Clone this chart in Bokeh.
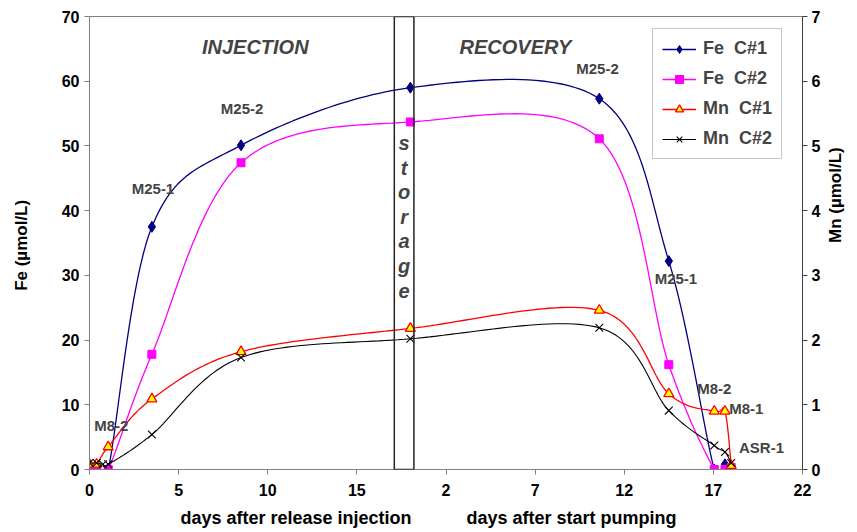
import numpy as np
from bokeh.plotting import figure
from bokeh.models import Range1d, LinearAxis, FixedTicker, Label, BoxAnnotation, Legend
from bokeh.embed import file_html
from bokeh.resources import INLINE

# ---------------- data (x = day on a continuous 0..40 axis; recovery day = x - 18) -------------
fe_c1_x = [0, 0.4, 1.05, 3.5, 8.5, 18.0, 28.6, 32.5, 35.05, 35.65, 36.0]
fe_c1_y = [0, 0, 0, 37.5, 50.1, 59.0, 57.3, 32.2, 0, 0.8, 0]

fe_c2_x = [0, 0.4, 1.05, 3.5, 8.5, 18.0, 28.6, 32.5, 35.05, 35.65, 36.0]
fe_c2_y = [0, 0, 0, 17.8, 47.4, 53.7, 51.1, 16.2, 0, 0, 0.3]

mn_c1_x = [0, 0.4, 1.05, 3.5, 8.5, 18.0, 28.6, 32.5, 35.05, 35.65, 36.0]
mn_c1_y = [0.08, 0.08, 0.35, 1.09, 1.82, 2.18, 2.46, 1.17, 0.90, 0.90, 0.06]

mn_c2_x = [0, 0.4, 0.75, 1.05, 3.5, 8.5, 18.0, 28.6, 32.5, 35.05, 35.65, 36.0]
mn_c2_y = [0.10, 0.10, 0.08, 0.08, 0.54, 1.73, 2.02, 2.19, 0.91, 0.37, 0.27, 0.10]

x_tick_positions = [0, 5, 10, 15, 20, 25, 30, 35, 40]
x_tick_labels = ["0", "5", "10", "15", "2", "7", "12", "17", "22"]
fe_ticks = [0, 10, 20, 30, 40, 50, 60, 70]
mn_ticks = [0, 1, 2, 3, 4, 5, 6, 7]
x_titles = ["days after release injection", "days after start pumping"]

storage_start, storage_end = 17.1, 18.2

point_labels = ["M25-1", "M25-2", "M8-2", "M25-2", "M25-1", "M8-2", "M8-1", "ASR-1"]
point_label_x = [3.56, 8.56, 1.22, 28.5, 32.9, 35.05, 36.85, 37.7]
point_label_y = [43.4, 55.8, 6.8, 62.0, 29.5, 12.5, 9.4, 3.4]

FONT = "Liberation Sans"


def smooth(xs, ys, n=30):
    """Excel-style smoothed line (Catmull-Rom as cubic Bezier) through the data points."""
    xs = np.asarray(xs, float)
    ys = np.asarray(ys, float)
    m = len(xs)
    ox, oy = [xs[0]], [ys[0]]
    t = np.linspace(0, 1, n)[1:]
    for i in range(m - 1):
        a = max(i - 1, 0)
        d = min(i + 2, m - 1)
        c1x = xs[i] + (xs[i + 1] - xs[a]) / 6.0
        c1y = ys[i] + (ys[i + 1] - ys[a]) / 6.0
        c2x = xs[i + 1] - (xs[d] - xs[i]) / 6.0
        c2y = ys[i + 1] - (ys[d] - ys[i]) / 6.0
        bx = (1 - t) ** 3 * xs[i] + 3 * (1 - t) ** 2 * t * c1x + 3 * (1 - t) * t ** 2 * c2x + t ** 3 * xs[i + 1]
        by = (1 - t) ** 3 * ys[i] + 3 * (1 - t) ** 2 * t * c1y + 3 * (1 - t) * t ** 2 * c2y + t ** 3 * ys[i + 1]
        ox.extend(bx.tolist())
        oy.extend(by.tolist())
    return ox, oy


p = figure(width=857, height=532, output_backend="svg", toolbar_location=None,
           x_range=Range1d(0, 40), y_range=Range1d(0, 70),
           min_border_left=89, min_border_right=48, min_border_top=16, min_border_bottom=63)
p.extra_y_ranges = {"mn": Range1d(0, 7)}
p.xgrid.visible = False
p.ygrid.visible = False
p.outline_line_color = "#808080"
p.background_fill_color = "white"
p.border_fill_color = "white"

# storage box
p.add_layout(BoxAnnotation(left=storage_start, right=storage_end, fill_alpha=0,
                           line_color="#222222", line_alpha=1.0, line_width=1.5))

NAVY, MAG, RED = "#000080", "#FF00FF", "#FF0000"

sx, sy = smooth(fe_c1_x, fe_c1_y)
l1 = p.line(sx, sy, line_color=NAVY, line_width=1.3)
m1 = p.scatter(fe_c1_x, fe_c1_y, marker="diamond", size=11, fill_color=NAVY, line_color=NAVY)

sx, sy = smooth(fe_c2_x, fe_c2_y)
l2 = p.line(sx, sy, line_color=MAG, line_width=1.3)
m2 = p.scatter(fe_c2_x, fe_c2_y, marker="square", size=8, fill_color=MAG, line_color=MAG)

sx, sy = smooth(mn_c1_x, mn_c1_y)
l3 = p.line(sx, sy, line_color=RED, line_width=1.3, y_range_name="mn")
m3 = p.scatter(mn_c1_x, mn_c1_y, marker="triangle", size=10, fill_color="#FFFF00",
               line_color=RED, line_width=1.3, y_range_name="mn")

sx, sy = smooth(mn_c2_x, mn_c2_y)
l4 = p.line(sx, sy, line_color="black", line_width=1.1, y_range_name="mn")
m4 = p.scatter(mn_c2_x, mn_c2_y, marker="x", size=11, line_color="black", line_width=1.1,
               y_range_name="mn")

legend = Legend(items=[("Fe  C#1", [l1, m1]), ("Fe  C#2", [l2, m2]),
                       ("Mn  C#1", [l3, m3]), ("Mn  C#2", [l4, m4])],
                location=(563, 310))
legend.label_text_font = FONT
legend.label_text_font_style = "bold"
legend.label_text_font_size = "18px"
legend.glyph_width = 34
legend.glyph_height = 20
legend.label_height = 20
legend.spacing = 9
legend.padding = 9
legend.margin = 0
legend.label_standoff = 7
legend.border_line_color = "#909090"
legend.border_line_width = 1
legend.background_fill_color = "white"
p.add_layout(legend)

# axes styling
def style_axis(ax, color):
    ax.axis_line_color = color
    ax.major_tick_line_color = color
    ax.minor_tick_line_color = None
    ax.major_tick_out = 5
    ax.major_tick_in = 0
    ax.major_label_text_font = FONT
    ax.major_label_text_font_style = "bold"
    ax.major_label_text_font_size = "16px"
    ax.major_label_text_color = "black"
    ax.axis_label_text_font = FONT
    ax.axis_label_text_font_style = "bold"
    ax.axis_label_text_font_size = "17px"
    ax.axis_label_text_color = "black"

xa = p.xaxis[0]
xa.ticker = FixedTicker(ticks=x_tick_positions)
xa.major_label_overrides = {pos: lab for pos, lab in zip(x_tick_positions, x_tick_labels)}
style_axis(xa, "#808080")
xa.major_label_standoff = 9

# second (label only) bottom axis carrying the two phase captions
xl = LinearAxis(ticker=FixedTicker(ticks=[]))
xl.axis_line_color = None
xl.major_tick_line_color = None
xl.minor_tick_line_color = None
xl.axis_label = x_titles[0] + "\u00a0" * 11 + x_titles[1] + "\u00a0" * 7
xl.axis_label_text_font = FONT
xl.axis_label_text_font_style = "bold"
xl.axis_label_text_font_size = "18px"
xl.axis_label_text_color = "black"
xl.axis_label_standoff = 9
p.add_layout(xl, "below")

ya = p.yaxis[0]
ya.ticker = FixedTicker(ticks=fe_ticks)
style_axis(ya, "#808080")
ya.axis_label = "Fe  (µmol/L)"
ya.axis_label_standoff = 28
ya.major_label_standoff = 5

ra = LinearAxis(y_range_name="mn", ticker=FixedTicker(ticks=mn_ticks))
style_axis(ra, "#404040")
ra.axis_label = "Mn  (µmol/L)"
ra.axis_label_standoff = 12
ra.major_label_standoff = 4
ra.axis_label_orientation = np.pi / 2
p.add_layout(ra, "right")

# phase titles
for txt, xx in [("INJECTION", 9.3), ("RECOVERY", 23.9)]:
    p.add_layout(Label(x=xx, y=65.3, text=txt, text_align="center", text_baseline="middle",
                       text_font=FONT, text_font_style="bold italic", text_font_size="20px"))

# storage vertical word
for k, ch in enumerate("storage"):
    p.add_layout(Label(x=(storage_start + storage_end) / 2, y=50.4 - k * 3.79, text=ch,
                       text_align="center", text_baseline="middle",
                       text_font=FONT, text_font_style="bold italic", text_font_size="20px"))

# sampling point labels
for txt, xx, yy in zip(point_labels, point_label_x, point_label_y):
    p.add_layout(Label(x=xx, y=yy, text=txt, text_align="center", text_baseline="middle",
                       text_font=FONT, text_font_style="bold", text_font_size="15px"))

open("out.html", "w").write(file_html(p, INLINE))
